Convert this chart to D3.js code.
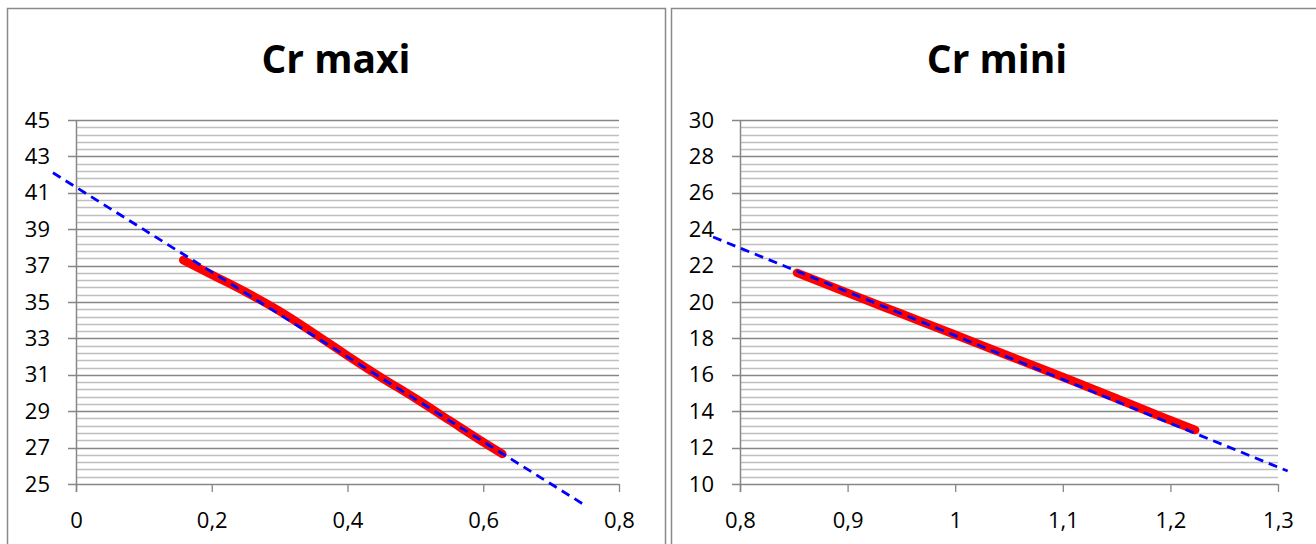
<!DOCTYPE html>
<html>
<head>
<meta charset="utf-8">
<script src="https://cdnjs.cloudflare.com/ajax/libs/d3/7.8.5/d3.min.js"></script>
<style>
body{margin:0;background:#fff;}
svg{display:block;}
svg text{font-family:"Open Sans",sans-serif;}
</style>
</head>
<body>
<svg id="chart" width="1316" height="544"></svg>
<script>
// Cr maxi
var maxiX = [0.158, 0.2, 0.25, 0.3, 0.35, 0.4, 0.45, 0.5, 0.55, 0.6, 0.628];
var maxiY = [37.3, 36.5, 35.55, 34.5, 33.3, 32.05, 30.85, 29.7, 28.5, 27.3, 26.65];
var maxiTrendX = [-0.034, 0.747];
var maxiTrendY = [42.1, 23.9];
var maxiXTicks = [0, 0.2, 0.4, 0.6, 0.8];
var maxiYTicks = [25, 27, 29, 31, 33, 35, 37, 39, 41, 43, 45];

// Cr mini
var miniX = [0.853, 0.9, 0.95, 1.0, 1.05, 1.1, 1.15, 1.2, 1.223];
var miniY = [21.6, 20.5, 19.35, 18.2, 17.03, 15.88, 14.7, 13.5, 12.97];
var miniTrendX = [0.775, 1.309];
var miniTrendY = [23.57, 10.71];
var miniXTicks = [0.8, 0.9, 1, 1.1, 1.2, 1.3];
var miniYTicks = [10, 12, 14, 16, 18, 20, 22, 24, 26, 28, 30];

var svg = d3.select("#chart");
var fmt = function(d){return String(+d.toFixed(2)).replace(".", ",");};

function drawChart(opt){
	var g = svg.append("g");

	g.append("rect")
	.attr("x", opt.boxX + 0.5).attr("y", 8.5)
	.attr("width", opt.boxW).attr("height", 560)
	.attr("fill", "#fff").attr("stroke", "#8a8a8a").attr("stroke-width", 1.5);

	g.append("text")
	.attr("x", opt.boxX + opt.boxW / 2).attr("y", 73)
	.attr("text-anchor", "middle")
	.style("font-size", "39px").style("font-weight", "bold")
	.text(opt.title);

	var x = d3.scaleLinear().domain(d3.extent(opt.xTicks)).range([opt.left, opt.right]);
	var y = d3.scaleLinear().domain(d3.extent(opt.yTicks)).range([484, 120]);

	// minor grid
	var y0 = opt.yTicks[0], y1 = opt.yTicks[opt.yTicks.length - 1];
	var minor = d3.range(y0, y1 + 0.01, 0.4).filter(function(v){
		return Math.abs((v - y0) / 2 - Math.round((v - y0) / 2)) > 0.01;
	});
	g.append("g").selectAll("line").data(minor).enter().append("line")
	.attr("x1", opt.left).attr("x2", opt.right)
	.attr("y1", function(d){return Math.round(y(d)) + 0.5;})
	.attr("y2", function(d){return Math.round(y(d)) + 0.5;})
	.attr("stroke", "#bfbfbf").attr("stroke-width", 1.3);

	// major grid
	g.append("g").selectAll("line").data(opt.yTicks).enter().append("line")
	.attr("x1", opt.left - 8).attr("x2", opt.right)
	.attr("y1", function(d){return Math.round(y(d)) + 0.5;})
	.attr("y2", function(d){return Math.round(y(d)) + 0.5;})
	.attr("stroke", "#868686").attr("stroke-width", 1.3);

	var yAxis = g.append("g")
	.attr("transform", "translate(" + opt.left + ",0)")
	.call(d3.axisLeft(y).tickValues(opt.yTicks).tickSize(0).tickPadding(26).tickFormat(fmt));
	yAxis.attr("font-family", null).attr("font-size", null);
	yAxis.select(".domain").remove();
	yAxis.selectAll("text").style("font-size", "22px").attr("fill", "#000");

	var xAxis = g.append("g")
	.attr("transform", "translate(0,484)")
	.call(d3.axisBottom(x).tickValues(opt.xTicks).tickSize(8).tickPadding(20).tickFormat(fmt).tickSizeOuter(0));
	xAxis.attr("font-family", null).attr("font-size", null);
	xAxis.select(".domain").remove();
	xAxis.selectAll(".tick line").attr("stroke", "#868686").attr("stroke-width", 1.3);
	xAxis.selectAll("text").style("font-size", "22px").attr("fill", "#000");

	g.append("line")
	.attr("x1", opt.left + 0.5).attr("x2", opt.left + 0.5)
	.attr("y1", 120).attr("y2", 492)
	.attr("stroke", "#868686").attr("stroke-width", 1.5);

	var pts = opt.xs.map(function(v, i){return [v, opt.ys[i]];});
	var line = d3.line().x(function(d){return x(d[0]);}).y(function(d){return y(d[1]);}).curve(d3.curveMonotoneX);

	g.append("path")
	.datum(pts)
	.attr("d", line)
	.attr("fill", "none").attr("stroke", "#ff0000")
	.attr("stroke-width", 8.5).attr("stroke-linecap", "round").attr("stroke-linejoin", "round");

	var trend = opt.tx.map(function(v, i){return [v, opt.ty[i]];});
	g.append("path")
	.datum(trend)
	.attr("d", d3.line().x(function(d){return x(d[0]);}).y(function(d){return y(d[1]);}))
	.attr("fill", "none").attr("stroke", "#0000ff")
	.attr("stroke-width", 2.8).attr("stroke-dasharray", "9,6");
}

drawChart({title: "Cr maxi", boxX: 7, boxW: 658, left: 76, right: 619,
	xTicks: maxiXTicks, yTicks: maxiYTicks, xs: maxiX, ys: maxiY, tx: maxiTrendX, ty: maxiTrendY});
drawChart({title: "Cr mini", boxX: 671, boxW: 652, left: 740, right: 1278,
	xTicks: miniXTicks, yTicks: miniYTicks, xs: miniX, ys: miniY, tx: miniTrendX, ty: miniTrendY});
</script>
</body>
</html>
